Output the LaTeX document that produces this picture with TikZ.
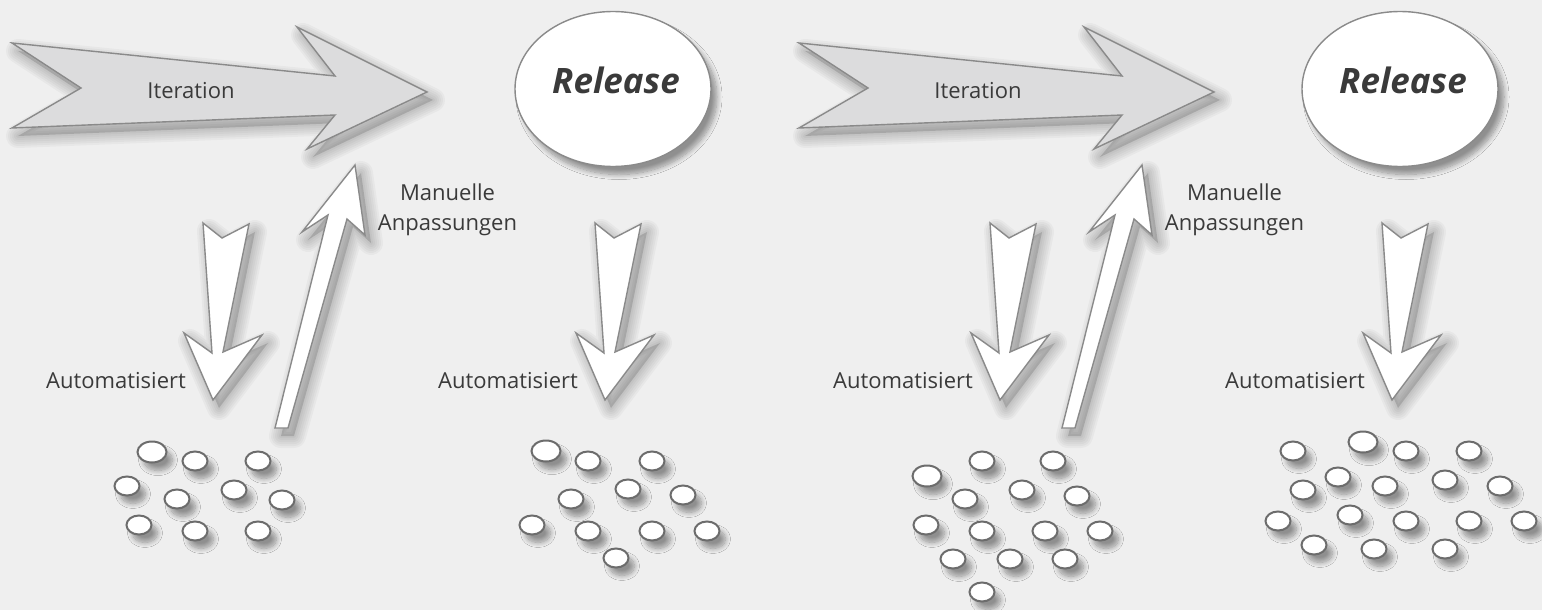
\documentclass[tikz,border=0pt]{standalone}
\usepackage{fontspec}
\setmainfont{Open Sans}
\usetikzlibrary{shapes.geometric,shadows.blur}
\definecolor{bg}{HTML}{EFEFEF}
\definecolor{arrowfill}{HTML}{DCDCDD}
\definecolor{edge}{HTML}{8A8A8A}
\definecolor{dotedge}{HTML}{6C6C6C}
\definecolor{txt}{HTML}{3A3A3A}
\newcommand\softshadow[1]{%
  \begin{scope}[shift={(6,8)}]
    \foreach \w in {24,20,16,12,8,4}{\draw[black,opacity=0.03,line width=\w pt,line join=round] #1;}
    \fill[black,opacity=0.14] #1;
  \end{scope}}
\begin{document}
\begin{tikzpicture}[x=1pt,y=-1pt,
  shd/.style={blur shadow={shadow xshift=6pt,shadow yshift=-8pt,shadow blur radius=5pt,shadow opacity=40,shadow blur steps=10}},
  grayarrow/.style={draw=edge,line width=1.4pt,fill=arrowfill,line join=miter},
  whitearrow/.style={draw=edge,line width=1.4pt,fill=white,line join=miter},
  dot/.style={ellipse,draw=dotedge,line width=2pt,fill=white,minimum width=25pt,minimum height=19pt,inner sep=0pt,shd},
  bigdot/.style={dot,minimum width=29pt,minimum height=21pt},
  lbl/.style={font=\fontsize{22}{30}\selectfont,text=txt,inner sep=0pt},
  relell/.style={ellipse,draw=edge,line width=1.4pt,fill=white,minimum width=196pt,minimum height=155pt,inner sep=0pt,shd},
  reltxt/.style={font=\fontsize{35}{40}\selectfont\bfseries\itshape,text=txt,inner sep=0pt}
]
\useasboundingbox[fill=bg] (0,0) rectangle (1542,610);

\foreach \sh/\pre in {0/g1-,787/g2-}{
\begin{scope}[xshift=\sh pt,name prefix=\pre]
  % Iteration arrow
  \softshadow{(12,43) -- (81,88) -- (12,128) -- (335,115) -- (307,149) -- (427,92) -- (297,27) -- (335,76) -- cycle}
  \draw[grayarrow] (12,43) -- (81,88) -- (12,128) -- (335,115) -- (307,149) -- (427,92) -- (297,27) -- (335,76) -- cycle;
  \node[lbl,anchor=base] (iter) at (191,98) {Iteration};
  % Release
  \node[relell] (relell) at (613,89) {};
  \node[reltxt,anchor=base] (rel) at (616,93) {Release};
  % automated down arrow
  \softshadow{(203,223) -- (222,238) -- (249,224) -- (223,352) -- (262,335) -- (213,400) -- (184,333) -- (212,353) -- cycle}
  \draw[whitearrow] (203,223) -- (222,238) -- (249,224) -- (223,352) -- (262,335) -- (213,400) -- (184,333) -- (212,353) -- cycle;
  \node[lbl,anchor=base west] (auto1) at (46,388) {Automatisiert};
  % manual up arrow
  \softshadow{(275,428) -- (288,428) -- (347,219) -- (365,235) -- (355,165) -- (302,232) -- (328,215) -- cycle}
  \draw[whitearrow] (275,428) -- (288,428) -- (347,219) -- (365,235) -- (355,165) -- (302,232) -- (328,215) -- cycle;
  \node[lbl,anchor=base] (man1) at (447.5,200) {Manuelle};
  \node[lbl,anchor=base] (man2) at (447.5,230) {Anpassungen};
  % release down arrow
  \begin{scope}[xshift=392pt]
    \softshadow{(203,223) -- (222,238) -- (249,224) -- (223,352) -- (262,335) -- (213,400) -- (184,333) -- (212,353) -- cycle}
    \draw[whitearrow] (203,223) -- (222,238) -- (249,224) -- (223,352) -- (262,335) -- (213,400) -- (184,333) -- (212,353) -- cycle;
    \node[lbl,anchor=base west] (auto2) at (46,388) {Automatisiert};
  \end{scope}
\end{scope}
}

% dot clusters
\node[bigdot] (a1) at (152,452) {};
\foreach \x/\y [count=\i from 2] in {195/461,258/461,127/486,177/499,234/490,282/500,139/525,195/531,258/531}
  \node[dot] (a\i) at (\x,\y) {};

\node[bigdot] (b1) at (546,451) {};
\foreach \x/\y [count=\i from 2] in {588/461,652/461,628/489,683/495,571/499,532/525,588/531,652/531,707/531,616/558}
  \node[dot] (b\i) at (\x,\y) {};

\node[bigdot] (c1) at (927,476) {};
\foreach \x/\y [count=\i from 2] in {982/461,1053/461,1022/490,1077/496,965/499,926/525,982/531,1045/531,1100/531,953/559,1010/559,1065/559,982/592}
  \node[dot] (c\i) at (\x,\y) {};

\node[bigdot] (d1) at (1363,442) {};
\foreach \x/\y [count=\i from 2] in {1293/451,1406/451,1469/451,1338/477,1303/490,1385/486,1445/480,1500/486,1278/521,1350/515,1406/521,1469/521,1524/521,1314/545,1374/549,1445/549}
  \node[dot] (d\i) at (\x,\y) {};
\end{tikzpicture}
\end{document}
